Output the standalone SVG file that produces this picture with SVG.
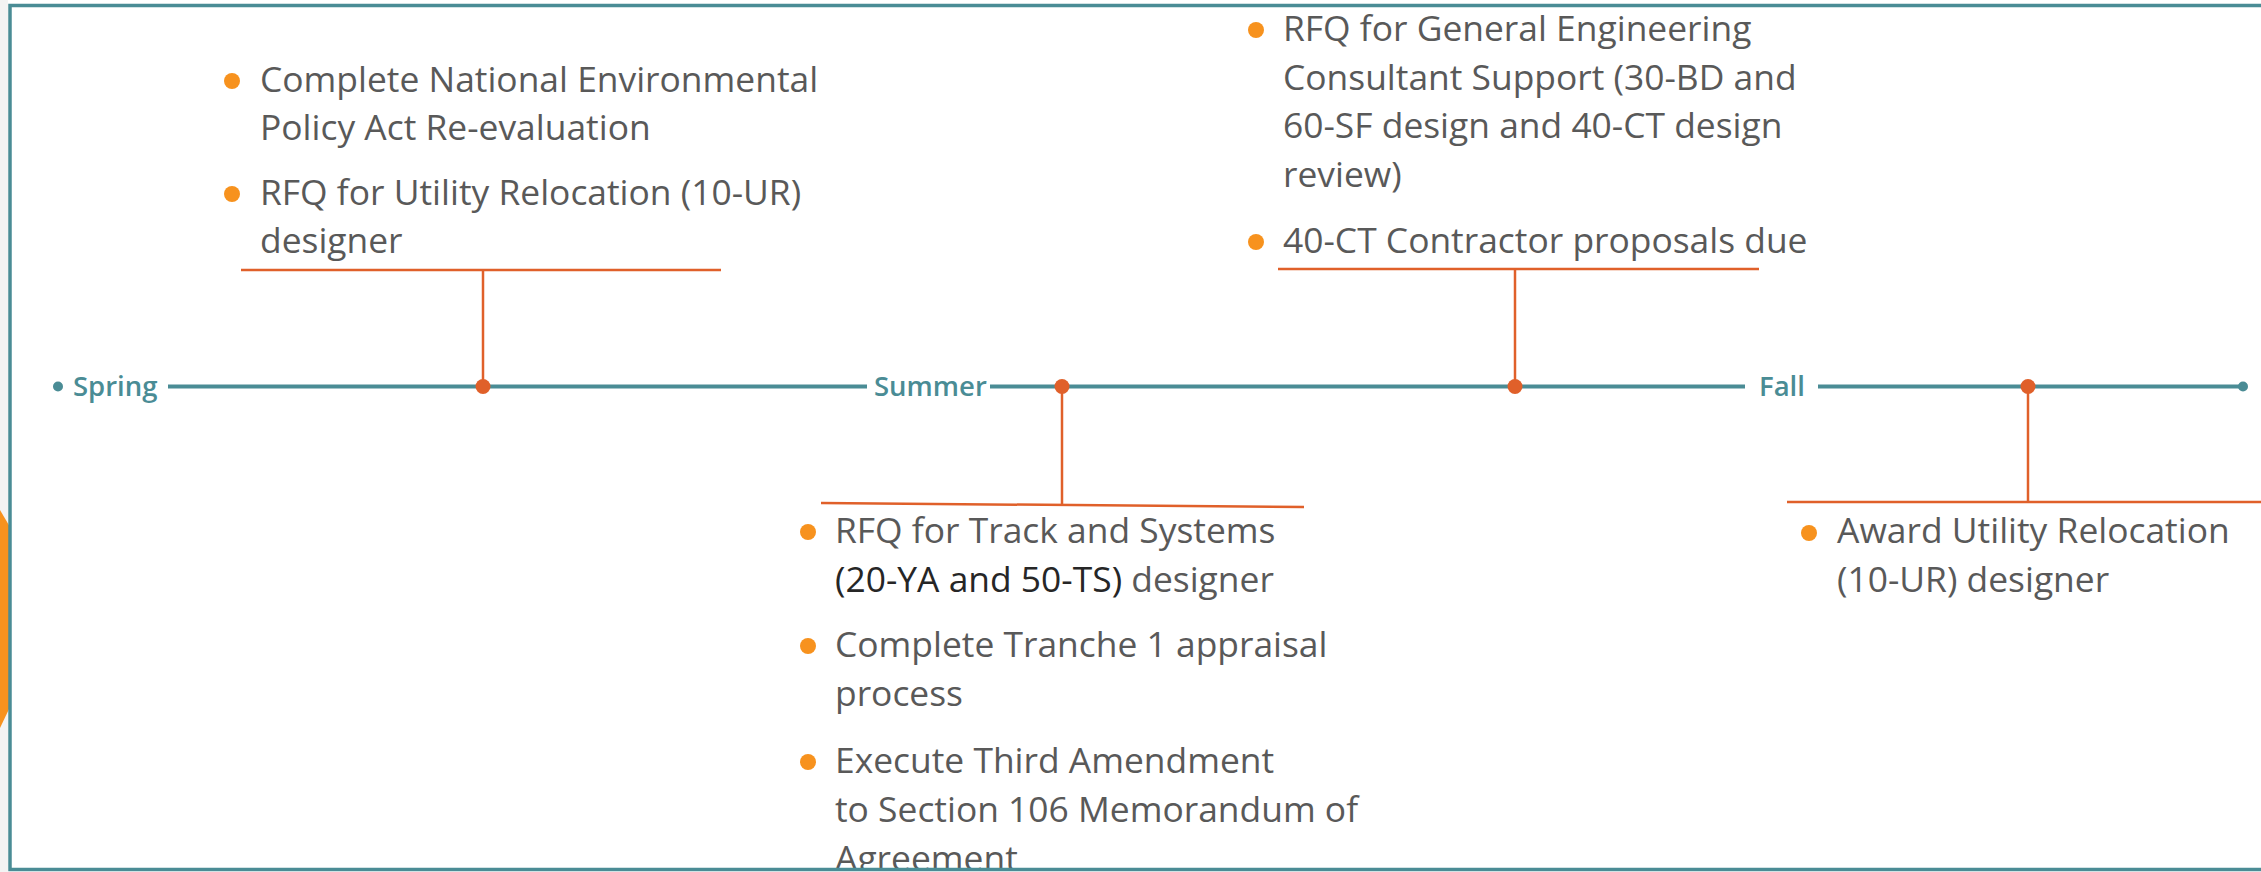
<svg xmlns="http://www.w3.org/2000/svg" width="2261" height="872" viewBox="0 0 2261 872">
  <defs>
    <style>
      .frame { fill: none; stroke: #4A8C95; stroke-width: 3.5; }
      .tl { stroke: #4A8C95; stroke-width: 4; fill: none; }
      .tldot { fill: #4A8C95; }
      .season { font-family: "Open Sans", "Liberation Sans", sans-serif; font-size: 27.5px; font-weight: 600; fill: #4A8C95; }
      .conn { stroke: #E0602A; stroke-width: 2.5; fill: none; }
      .evdot { fill: #E0602A; }
      .txt { font-family: "Open Sans", "Liberation Sans", sans-serif; font-size: 35.4px; fill: #595959; }
      .dark { fill: #262626; }
      .bul { fill: #F7921E; }
    </style>
    <clipPath id="inner">
      <rect x="12" y="7" width="2260" height="861"/>
    </clipPath>
  </defs>

  <rect x="0" y="0" width="2261" height="872" fill="#FFFFFF"/>
  <rect x="0" y="0" width="8" height="872" fill="#F3F3F3"/>
  <polygon points="0,510 10,527 10,707 0,728" fill="#F7921E"/>

  <!-- timeline -->
  <g id="timeline">
    <circle class="tldot" cx="58" cy="386.5" r="5"/>
    <text class="season" x="73" y="396">Spring</text>
    <line class="tl" x1="168" y1="386.5" x2="867" y2="386.5"/>
    <text class="season" x="874" y="396">Summer</text>
    <line class="tl" x1="990" y1="386.5" x2="1745" y2="386.5"/>
    <text class="season" x="1759" y="396">Fall</text>
    <line class="tl" x1="1818" y1="386.5" x2="2243" y2="386.5"/>
    <circle class="tldot" cx="2243" cy="386.5" r="5"/>
  </g>

  <!-- connectors -->
  <g id="connectors">
    <line class="conn" x1="483" y1="386.5" x2="483" y2="270"/>
    <line class="conn" x1="241" y1="270" x2="721" y2="270"/>
    <line class="conn" x1="1062" y1="386.5" x2="1062" y2="504"/>
    <line class="conn" x1="821" y1="503" x2="1304" y2="507"/>
    <line class="conn" x1="1515" y1="386.5" x2="1515" y2="269"/>
    <line class="conn" x1="1278" y1="269" x2="1759" y2="269"/>
    <line class="conn" x1="2028" y1="386.5" x2="2028" y2="502"/>
    <line class="conn" x1="1787" y1="502" x2="2261" y2="502"/>
    <circle class="evdot" cx="483" cy="386.5" r="7.5"/>
    <circle class="evdot" cx="1062" cy="386.5" r="7.5"/>
    <circle class="evdot" cx="1515" cy="386.5" r="7.5"/>
    <circle class="evdot" cx="2028" cy="386.5" r="7.5"/>
  </g>

  <!-- node 1: spring event -->
  <g id="node-spring">
    <circle class="bul" cx="232" cy="81" r="8"/>
    <text class="txt" x="260" y="92">Complete National Environmental</text>
    <text class="txt" x="260" y="140">Policy Act Re-evaluation</text>
    <circle class="bul" cx="232" cy="194" r="8"/>
    <text class="txt" x="260" y="205">RFQ for Utility Relocation (10-UR)</text>
    <text class="txt" x="260" y="253">designer</text>
  </g>

  <!-- node 2: summer event -->
  <g id="node-summer" clip-path="url(#inner)">
    <circle class="bul" cx="808" cy="532" r="8"/>
    <text class="txt" x="835" y="543">RFQ for Track and Systems</text>
    <text class="txt" x="835" y="592"><tspan class="dark">(20-YA and 50-TS)</tspan> designer</text>
    <circle class="bul" cx="808" cy="646" r="8"/>
    <text class="txt" x="835" y="657">Complete Tranche 1 appraisal</text>
    <text class="txt" x="835" y="706">process</text>
    <circle class="bul" cx="808" cy="762" r="8"/>
    <text class="txt" x="835" y="773">Execute Third Amendment</text>
    <text class="txt" x="835" y="822">to Section 106 Memorandum of</text>
    <text class="txt" x="835" y="871">Agreement</text>
  </g>

  <!-- node 3: late summer event -->
  <g id="node-late-summer">
    <circle class="bul" cx="1256" cy="30" r="8"/>
    <text class="txt" x="1283" y="41">RFQ for General Engineering</text>
    <text class="txt" x="1283" y="90">Consultant Support (30-BD and</text>
    <text class="txt" x="1283" y="138">60-SF design and 40-CT design</text>
    <text class="txt" x="1283" y="187">review)</text>
    <circle class="bul" cx="1256" cy="242" r="8"/>
    <text class="txt" x="1283" y="253">40-CT Contractor proposals due</text>
  </g>

  <!-- node 4: fall event -->
  <g id="node-fall">
    <circle class="bul" cx="1809" cy="533" r="8"/>
    <text class="txt" x="1837" y="543">Award Utility Relocation</text>
    <text class="txt" x="1837" y="592">(10-UR) designer</text>
  </g>

  <rect class="frame" x="10" y="5.5" width="2300" height="864"/>
</svg>
